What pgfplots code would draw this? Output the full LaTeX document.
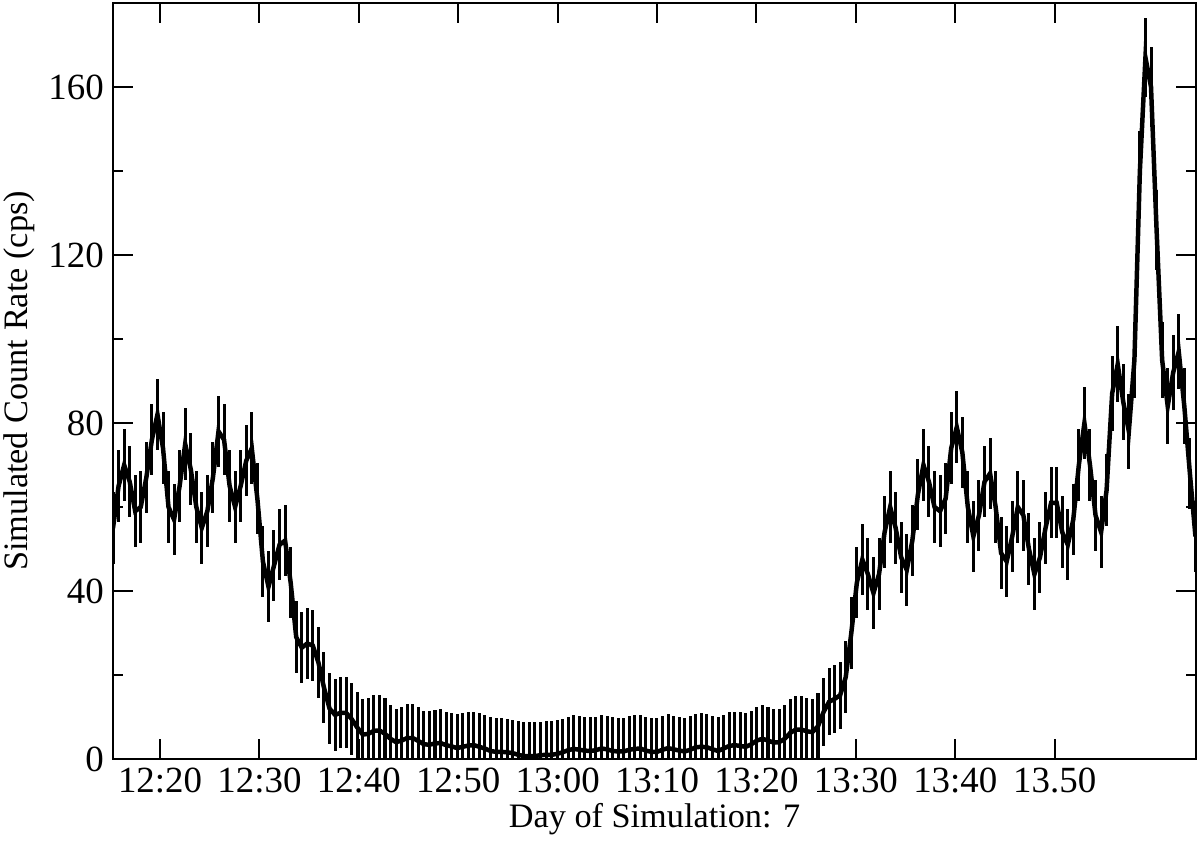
\documentclass[border=0pt]{standalone}
\usepackage{fontspec}
\setmainfont{Liberation Serif}
\usepackage{pgfplots}
\usepackage{pgfplotstable}
\pgfplotsset{compat=1.18}
\usetikzlibrary{calc}

% simulated count rate, time in minutes after 12:00
\pgfplotstableread{
t y e
15.27 55 8.5
15.83 65 8.5
16.39 70 8.5
16.95 66 8.5
17.50 59 8.5
18.06 60 8.5
18.62 67 8.5
19.18 76 8.5
19.74 82 8.5
20.30 74 8.5
20.85 60 8.5
21.41 57 8.5
21.97 65 8.5
22.53 75 8.5
23.09 69 8.5
23.65 60 8.5
24.20 55 8.5
24.76 59 8.5
25.32 67 8.5
25.88 78 8.5
26.44 76 8.5
27.00 65 8.5
27.55 60 8.5
28.11 65 8.5
28.67 71 8.5
29.23 74 8.5
29.79 62 8.5
30.35 47 8.5
30.91 41 8.5
31.46 46 8.5
32.02 51 8.5
32.58 52 8.5
33.14 42 8.5
33.70 29 8.5
34.26 26.5 8.5
34.81 27.5 8.5
35.37 27 8.5
35.93 23 8.5
36.49 17 8.5
37.05 12 8.5
37.61 10.5 8.5
38.16 11 8.5
38.72 11 8.5
39.28 9.5 8.5
39.84 7.5 8.5
40.40 5.8 8.5
40.96 6 8.5
41.51 6.7 8.5
42.07 6.8 8.5
42.63 6 8.5
43.19 4.8 8
43.75 4 8
44.31 4.4 8
44.87 5 8
45.42 5 8
45.98 4.3 8
46.54 3.5 8
47.10 3.4 8
47.66 3.7 8
48.22 3.8 8
48.77 3.3 8
49.33 3 8
49.89 2.6 8
50.45 2.9 8
51.01 3.2 8
51.57 3.3 8
52.12 2.9 8
52.68 2.5 8
53.24 1.9 8
53.80 1.7 8
54.36 1.7 8
54.92 1.6 8
55.47 1.4 8
56.03 1.0 8
56.59 0.7 8
57.15 0.7 8
57.71 0.7 8
58.27 0.9 8
58.83 1.0 8
59.38 1.0 8
59.94 1.2 8
60.50 1.6 8
61.06 2.1 8
61.62 2.4 8
62.18 2.2 8
62.73 2.0 8
63.29 1.9 8
63.85 2.1 8
64.41 2.5 8
64.97 2.3 8
65.53 1.9 8
66.08 1.8 8
66.64 1.8 8
67.20 2.2 8
67.76 2.4 8
68.32 2.5 8
68.88 2.0 8
69.43 1.7 8
69.99 1.7 8
70.55 2.2 8
71.11 2.6 8
71.67 2.3 8
72.23 2.0 8
72.79 1.8 8
73.34 2.2 8
73.90 2.8 8
74.46 2.9 8
75.02 2.8 8
75.58 2.3 8
76.14 1.9 8
76.69 2.5 8
77.25 3.1 8
77.81 3.3 8
78.37 3.1 8
78.93 2.9 8
79.49 3.5 8
80.04 4.4 8
80.60 4.8 8
81.16 4.4 8
81.72 3.9 8
82.28 4.0 8
82.84 4.8 8
83.39 6.2 8
83.95 7.0 8
84.51 7.0 8
85.07 6.6 8
85.63 6.4 8
86.19 7.8 8
86.75 11.2 8
87.30 13.6 8
87.86 14.3 8
88.42 15.2 8
88.98 19.5 8.5
89.54 30 8.5
90.10 42 8.5
90.65 47.5 8.5
91.21 44 8.5
91.77 39.5 8.5
92.33 44 8.5
92.89 54 8.5
93.45 60 8.5
94.00 55 8.5
94.56 48 8.5
95.12 45 8.5
95.68 52 8.5
96.24 63 8.5
96.80 70 8.5
97.35 66 8.5
97.91 60 8.5
98.47 59 8.5
99.03 62 8.5
99.59 74 8.5
100.15 79 8.5
100.71 73 8.5
101.26 60 8.5
101.82 53 8.5
102.38 58 8.5
102.94 66 8.5
103.50 68 8.5
104.06 60 8.5
104.61 49 8.5
105.17 47 8.5
105.73 53 8.5
106.29 60 8.5
106.85 58 8.5
107.41 50 8.5
107.96 44 8.5
108.52 48 8.5
109.08 55 8.5
109.64 61 8.5
110.20 61 8.5
110.76 54 8.5
111.32 51 8.5
111.87 57 8.5
112.43 70 8.5
112.99 80 8.5
113.55 70 8.5
114.11 58 8.5
114.67 54 8.5
115.22 64 8.5
115.78 87 9
116.34 94 9
116.90 85 9
117.46 78 9
118.02 95 9
118.57 140 9.5
119.13 167 9.5
119.69 160 9.5
120.25 126 9.5
120.81 95 9
121.37 84 9
121.92 92 9
122.48 97 9
123.04 84 9
123.60 68 8.5
124.16 53 8.5
}\ratedata

\begin{document}
\begin{tikzpicture}
\begin{axis}[
  scale only axis,
  width=14.44cm, height=10.08cm,
  xmin=15.27, xmax=124.22,
  ymin=0, ymax=180,
  xtick={20,30,40,50,60,70,80,90,100,110},
  xticklabels={12:20,12:30,12:40,12:50,13:00,13:10,13:20,13:30,13:40,13.50},
  ytick={0,40,80,120,160},
  minor ytick={20,60,100,140},
  tick align=inside, tick pos=both,
  major tick length=0.267cm, minor tick length=0.133cm,
  every tick/.style={black, line width=0.75pt},
  axis line style={line width=1.1pt},
  tick label style={font=\fontsize{14}{16}\selectfont},
  /pgf/number format/assume math mode=true,
  xlabel={Day of Simulation: 7},
  ylabel={Simulated Count Rate (cps)},
  label style={font=\fontsize{13}{15}\selectfont},
  xlabel style={at={(axis description cs:0.5,-0.08)}, anchor=center},
  ylabel style={at={(axis description cs:-0.087,0.5)}, anchor=center},
]
\addplot[black, line width=1.7pt,
  error bars/.cd, y dir=both, y explicit,
  error mark=none, error bar style={line width=1.15pt}]
  table[x=t, y=y, y error=e] {\ratedata};
\coordinate (sw) at (rel axis cs:0,0);
\coordinate (ne) at (rel axis cs:1,1);
\end{axis}
\pgfresetboundingbox
\path[use as bounding box] ($(sw)+(-1.507cm,-1.12cm)$) rectangle ($(ne)+(0.053cm,0.04cm)$);
\end{tikzpicture}
\end{document}
